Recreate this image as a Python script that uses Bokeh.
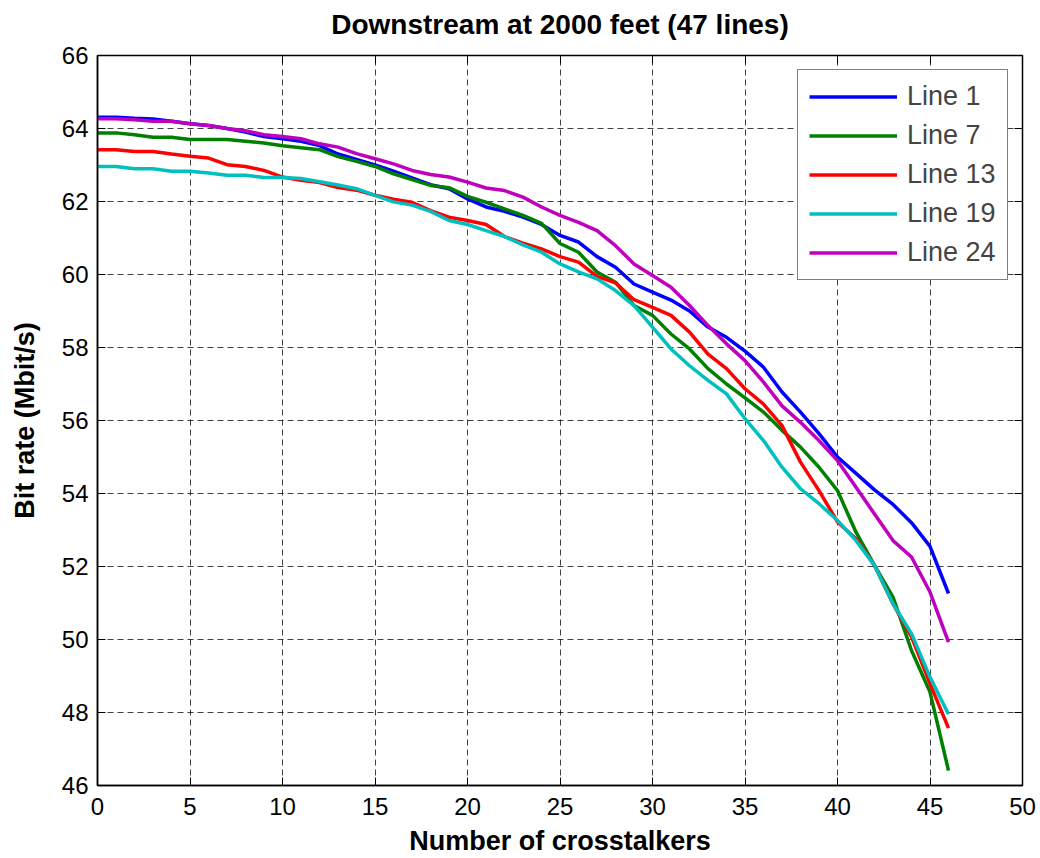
from bokeh.plotting import figure
from bokeh.models import Range1d, FixedTicker, Legend, LegendItem, LinearAxis
from bokeh.embed import file_html
from bokeh.resources import INLINE

crosstalkers = list(range(47))

line_1 = [64.31, 64.31, 64.28, 64.26, 64.20, 64.13, 64.08, 64.00, 63.90, 63.78,
          63.72, 63.65, 63.53, 63.30, 63.15, 63.00, 62.83, 62.65, 62.46, 62.35,
          62.07, 61.85, 61.73, 61.57, 61.37, 61.07, 60.89, 60.49, 60.20, 59.74,
          59.52, 59.30, 59.00, 58.56, 58.28, 57.90, 57.46, 56.78, 56.23, 55.64,
          55.00, 54.55, 54.10, 53.70, 53.20, 52.55, 51.26]
line_7 = [63.88, 63.88, 63.83, 63.76, 63.76, 63.70, 63.70, 63.70, 63.65, 63.60,
          63.53, 63.47, 63.42, 63.23, 63.10, 62.96, 62.76, 62.60, 62.44, 62.38,
          62.14, 61.98, 61.80, 61.62, 61.40, 60.85, 60.61, 60.07, 59.79, 59.15,
          58.88, 58.37, 57.96, 57.42, 57.00, 56.62, 56.23, 55.73, 55.27, 54.72,
          54.08, 52.94, 52.03, 51.16, 49.70, 48.56, 46.41]
line_13 = [63.42, 63.42, 63.37, 63.37, 63.30, 63.24, 63.19, 63.01, 62.96, 62.85,
           62.67, 62.58, 62.52, 62.38, 62.31, 62.17, 62.06, 61.98, 61.75, 61.57,
           61.48, 61.37, 61.04, 60.86, 60.70, 60.49, 60.34, 59.95, 59.77, 59.31,
           59.10, 58.88, 58.42, 57.82, 57.42, 56.87, 56.45, 55.86, 54.86, 54.08,
           53.22, 52.76, 52.03, 50.98, 50.07, 48.79, 47.57]
line_19 = [62.96, 62.96, 62.90, 62.90, 62.83, 62.83, 62.78, 62.72, 62.72, 62.66,
           62.66, 62.63, 62.54, 62.45, 62.35, 62.17, 61.99, 61.90, 61.73, 61.48,
           61.37, 61.20, 61.04, 60.81, 60.61, 60.29, 60.07, 59.88, 59.56, 59.15,
           58.56, 57.96, 57.50, 57.10, 56.73, 56.05, 55.45, 54.72, 54.13, 53.72,
           53.26, 52.71, 52.03, 50.98, 50.16, 48.97, 47.95]
line_24 = [64.27, 64.27, 64.24, 64.20, 64.20, 64.13, 64.08, 64.00, 63.94, 63.83,
           63.78, 63.72, 63.58, 63.49, 63.31, 63.17, 63.03, 62.85, 62.74, 62.67,
           62.53, 62.37, 62.30, 62.12, 61.85, 61.62, 61.43, 61.20, 60.79, 60.29,
           59.97, 59.65, 59.15, 58.60, 58.10, 57.64, 57.05, 56.40, 55.95, 55.45,
           54.90, 54.17, 53.44, 52.71, 52.26, 51.30, 49.93]

series_names = ["Line 1", "Line 7", "Line 13", "Line 19", "Line 24"]
series_values = [line_1, line_7, line_13, line_19, line_24]
series_colors = ["#0000ff", "#008000", "#ff0000", "#00bfbf", "#bf00bf"]

x_ticks = [0, 5, 10, 15, 20, 25, 30, 35, 40, 45, 50]
y_ticks = [46, 48, 50, 52, 54, 56, 58, 60, 62, 64, 66]

title_text = "Downstream at 2000 feet (47 lines)"

FONT = "Liberation Sans"

p = figure(width=1040, height=858, output_backend="svg", toolbar_location=None,
           x_range=Range1d(0, 50), y_range=Range1d(46, 66),
           min_border_left=97, min_border_right=18, min_border_top=55, min_border_bottom=73)

p.outline_line_color = "black"
p.outline_line_width = 1.5
p.background_fill_color = "white"
p.border_fill_color = "white"

for ax in (p.xaxis[0], p.yaxis[0]):
    ax.major_label_text_font = FONT
    ax.major_label_text_font_size = "24px"
    ax.major_label_text_color = "black"
    ax.axis_label_text_font = FONT
    ax.axis_label_text_font_size = "27px"
    ax.axis_label_text_font_style = "bold"
    ax.axis_label_text_color = "black"
    ax.major_tick_in = 8
    ax.major_tick_out = 0
    ax.minor_tick_line_color = None
    ax.axis_line_color = "black"
    ax.axis_line_width = 1.5
    ax.major_tick_line_color = "black"

p.xaxis[0].ticker = FixedTicker(ticks=x_ticks)
p.yaxis[0].ticker = FixedTicker(ticks=y_ticks)
p.xaxis[0].axis_label = "Number of crosstalkers"
p.yaxis[0].axis_label = "Bit rate (Mbit/s)"
p.xaxis[0].major_label_standoff = 12
p.yaxis[0].major_label_standoff = 9
p.xaxis[0].axis_label_standoff = 8
p.yaxis[0].axis_label_standoff = 19

# mirrored tick-only axes on top and right; the top one carries the title
top_ax = LinearAxis(ticker=FixedTicker(ticks=x_ticks), major_label_text_font_size="0px",
                    major_label_standoff=0,
                    major_tick_in=8, major_tick_out=0, minor_tick_line_color=None,
                    axis_line_color="black", major_tick_line_color="black",
                    axis_label=title_text, axis_label_standoff=16,
                    axis_label_text_font=FONT, axis_label_text_font_size="28px",
                    axis_label_text_font_style="bold", axis_label_text_color="black")
right_ax = LinearAxis(ticker=FixedTicker(ticks=y_ticks), major_label_text_font_size="0px",
                      major_label_standoff=0,
                      major_tick_in=8, major_tick_out=0, minor_tick_line_color=None,
                      axis_line_color="black", major_tick_line_color="black")
top_ax.major_label_text_color = None
right_ax.major_label_text_color = None
p.add_layout(top_ax, "above")
p.add_layout(right_ax, "right")

for g in (p.xgrid[0], p.ygrid[0]):
    g.grid_line_color = "black"
    g.grid_line_alpha = 0.75
    g.grid_line_dash = "6 4"
    g.grid_line_width = 1
p.xgrid[0].ticker = FixedTicker(ticks=x_ticks)
p.ygrid[0].ticker = FixedTicker(ticks=y_ticks)

items = []
for name, vals, col in zip(series_names, series_values, series_colors):
    r = p.line(crosstalkers, vals, line_color=col, line_width=3.5)
    items.append(LegendItem(label=name, renderers=[r]))

legend = Legend(items=items, location=(700, 505),
                label_text_font=FONT, label_text_font_size="27px",
                glyph_width=88, glyph_height=31, label_height=31,
                label_standoff=10, spacing=8, padding=11,
                border_line_color="black", border_line_width=1.5,
                background_fill_color="white", background_fill_alpha=1.0)
p.add_layout(legend, "center")

open("out.html", "w").write(file_html(p, INLINE))
